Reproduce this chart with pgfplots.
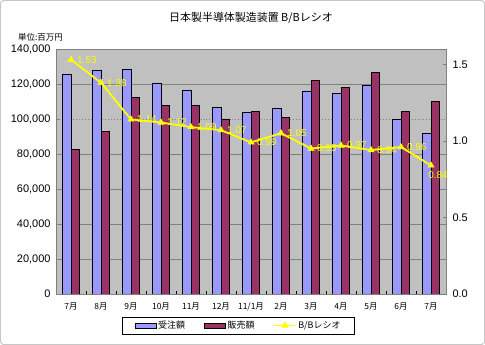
\documentclass[border=0pt]{standalone}
\usepackage{fontspec}
\setmainfont{Liberation Sans}
\newfontfamily\cjk{Noto Sans CJK JP}
\usepackage{pgfplots}
\pgfplotsset{compat=1.18}
\usepackage{pgfplotstable}
\definecolor{bgray}{HTML}{C0C0C0}
\definecolor{barblue}{HTML}{9999FF}
\definecolor{barred}{HTML}{993366}
\definecolor{gridc}{HTML}{808080}
\definecolor{lineyel}{HTML}{FFFF00}

\pgfplotsset{
  yellegend/.style={legend image code/.code={\draw[mark repeat=2, mark phase=2, ##1] plot coordinates {(0bp,0bp) (10.5bp,0bp) (21bp,0bp)};}},
  bluelegend/.style={legend image code/.code={\draw[fill=barblue, draw=black, line width=0.6bp] (0bp,-2.5bp) rectangle (21bp,2.5bp);}},
  redlegend/.style={legend image code/.code={\draw[fill=barred, draw=black, line width=0.6bp] (0bp,-2.5bp) rectangle (21bp,2.5bp);}},
}

\pgfplotstableread{
x order sales ratio lab
0 125500 82500 1.53 1.53
1 127600 92800 1.38 1.38
2 128200 112400 1.14 1.14
3 120600 107600 1.12 1.12
4 116600 107600 1.09 1.09
5 106900 100000 1.07 1.07
6 103600 104400 0.99 0.99
7 105900 101100 1.05 1.05
8 116000 122100 0.95 0.95
9 114500 118100 0.97 0.97
10 119200 126500 0.94 0.94
11 99800 104400 0.96 0.96
12 91800 110100 0.84 0.84
}\data

\begin{document}
\begin{tikzpicture}
\path[use as bounding box] (0,0) rectangle (485bp,345bp);
\draw[gray!45, line width=1bp, rounded corners=3bp] (0.5bp,0.5bp) rectangle (484.5bp,344.5bp);
\node[font=\cjk\fontsize{11}{13}\selectfont] at (251bp,327bp) {日本製半導体製造装置 B/Bレシオ};
\node[font=\cjk\fontsize{8.5}{10}\selectfont] at (40.5bp,307.5bp) {単位:百万円};

\begin{axis}[
  at={(56bp,51bp)}, anchor=south west,
  scale only axis, width=390bp, height=245bp,
  axis background/.style={fill=bgray},
  ybar=0pt, bar width=8.5bp,
  xmin=-0.5, xmax=12.5, ymin=0, ymax=140000,
  ytick={0,20000,40000,60000,80000,120000,140000},
  extra y ticks={100000},
  extra y tick style={major grid style={gridc, dotted, line width=0.9bp}},
  ytick pos=left,
  ymajorgrids,
  major grid style={gridc, line width=0.9bp},
  axis line style={gridc, line width=0.9bp},
  scaled y ticks=false,
  /pgf/number format/fixed,
  /pgf/number format/1000 sep={,},
  /pgf/number format/assume math mode=true,
  y tick label style={font=\fontsize{11}{13}\selectfont, xshift=-2bp},
  tick align=inside,
  major tick length=3bp,
  xtick={0,...,12},
  xticklabels={7月,8月,9月,10月,11月,12月,11/1月,2月,3月,4月,5月,6月,7月},
  x tick label style={font=\cjk\fontsize{8.5}{10}\selectfont, yshift=-5bp},
  major x tick style={draw=none},
  minor xtick={-0.5,0.5,...,12.5},
  minor tick length=3bp,
  minor x tick style={black},
  xtick pos=bottom,
  y tick style={gridc},
]
\addplot[draw=black, line width=0.6bp, fill=barblue] table[x=x, y=order] \data;
\addplot[draw=black, line width=0.6bp, fill=barred] table[x=x, y=sales] \data;
\end{axis}

\begin{axis}[
  at={(56bp,51bp)}, anchor=south west,
  scale only axis, width=390bp, height=245bp,
  xmin=-0.5, xmax=12.5, ymin=0, ymax=1.6,
  axis x line=none, axis y line*=right,
  ytick={0,0.5,1,1.5},
  /pgf/number format/fixed,
  /pgf/number format/fixed zerofill,
  /pgf/number format/precision=1,
  /pgf/number format/assume math mode=true,
  y tick label style={font=\fontsize{11}{13}\selectfont, xshift=3bp},
  y axis line style={gridc, line width=0.9bp},
  y tick style={gridc},
  tick align=inside,
  major tick length=3bp,
  legend columns=3,
  legend style={at={(0.468,-0.1286)}, anchor=center, draw=black, fill=white,
    font=\cjk\fontsize{9}{11}\selectfont, inner xsep=12bp, inner ysep=2bp,
    /tikz/every even column/.append style={column sep=17bp}},
  legend cell align=left,
]
\addlegendimage{bluelegend}
\addlegendentry{受注額}
\addlegendimage{redlegend}
\addlegendentry{販売額}
\addplot[lineyel, line width=1.8bp, mark=triangle*, mark size=3.6bp,
  mark options={fill=lineyel, draw=lineyel, line width=0.5bp},
  yellegend,
] table[x=x, y=ratio] \data;
\addlegendentry{B/Bレシオ}
\addplot[draw=none, no marks, forget plot, point meta=explicit symbolic,
  nodes near coords,
  every node near coord/.append style={anchor=west, text=lineyel, font=\fontsize{10}{11}\selectfont, xshift=4bp, inner sep=2bp},
  skip coords between index={12}{13},
] table[x=x, y=ratio, meta=lab] \data;
\addplot[draw=none, no marks, forget plot, point meta=explicit symbolic,
  nodes near coords,
  every node near coord/.append style={anchor=north, text=lineyel, font=\fontsize{10}{11}\selectfont, xshift=7bp, yshift=-4bp, inner sep=2bp},
  skip coords between index={0}{12},
] table[x=x, y=ratio, meta=lab] \data;
\end{axis}
\end{tikzpicture}
\end{document}
